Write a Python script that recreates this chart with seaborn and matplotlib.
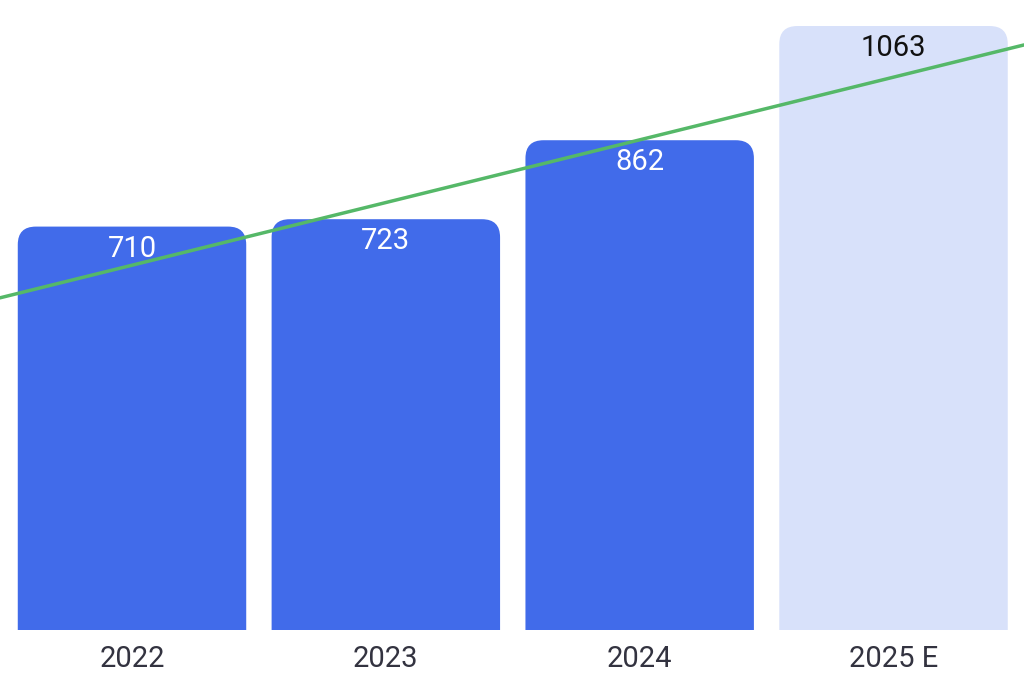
import matplotlib
matplotlib.use("Agg")
import matplotlib.pyplot as plt
import seaborn as sns
from matplotlib.patches import FancyBboxPatch

years = ["2022", "2023", "2024", "2025 E"]
values = [710, 723, 862, 1063]
bar_colors = ["#416BEA", "#416BEA", "#416BEA", "#D8E1FA"]
label_colors = ["white", "white", "white", "#111111"]
# trend line values at the first and last category
trend_x = [0, 3]
trend_y = [642, 973]

sns.set_theme(style="white")
plt.rcParams["font.family"] = ["Roboto", "DejaVu Sans"]

fig = plt.figure(figsize=(10.24, 6.79), dpi=100)
ax = fig.add_axes([0, 49 / 679, 1, 630 / 679])

sns.barplot(x=years, y=values, hue=years, palette=bar_colors, legend=False,
            width=0.9, saturation=1, ax=ax)

ax.set_xlim(-0.52, 3.514)
ax.set_ylim(0, 1108.8)

# px -> data conversions for rounded corners
px_x = 4.034 / 1024
px_y = 1108.8 / 630
r_px = 18
rx = r_px * px_x
ry = r_px * px_y

for p, c in zip(list(ax.patches), bar_colors):
    x, w, h = p.get_x(), p.get_width(), p.get_height()
    p.set_visible(False)
    fb = FancyBboxPatch((x, -ry), w, h + ry,
                        boxstyle=f"round,pad=0,rounding_size={rx}",
                        mutation_aspect=ry / rx,
                        facecolor=c, edgecolor="none", zorder=2)
    ax.add_patch(fb)

ax.axline((trend_x[0], trend_y[0]), (trend_x[1], trend_y[1]),
          color="#55B868", lw=2.5, zorder=3)

for i, (v, lc) in enumerate(zip(values, label_colors)):
    ax.text(i, v - 22 * px_y, str(v), ha="center", va="center",
            fontsize=21, color=lc, zorder=4)

for s in ax.spines.values():
    s.set_visible(False)
ax.set_yticks([])
ax.tick_params(axis="x", length=0, pad=10.5, labelsize=21, labelcolor="#333340")
ax.set_xlabel("")
ax.set_ylabel("")
ax.set_facecolor("white")
fig.patch.set_facecolor("white")

fig.savefig("out.png", dpi=100)
